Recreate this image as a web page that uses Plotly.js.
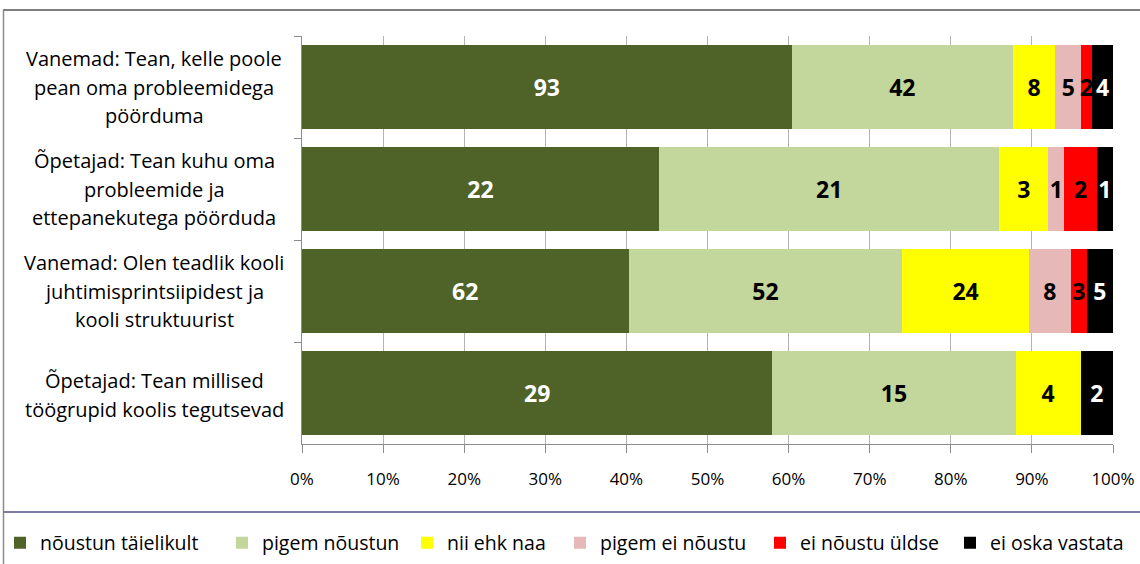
<!DOCTYPE html>
<html>
<head>
<meta charset="utf-8">
<script src="https://cdn.plot.ly/plotly-3.0.1.min.js"></script>
<style>html,body{margin:0;padding:0;background:#fff;}#chart{width:1140px;height:564px;}</style>
</head>
<body>
<div id="chart"></div>
<script>
// Category labels (lines of each label)
const categoryLines = [
  ["Vanemad: Tean, kelle poole", "pean oma probleemidega", "pöörduma"],
  ["Õpetajad: Tean kuhu oma", "probleemide ja", "ettepanekutega pöörduda"],
  ["Vanemad: Olen teadlik kooli", "juhtimisprintsiipidest ja", "kooli struktuurist"],
  ["Õpetajad: Tean millised", "töögrupid koolis tegutsevad"]
];
const categories = categoryLines.map(l => l.join(" "));

// Series names
const seriesNames = ["nõustun täielikult", "pigem nõustun", "nii ehk naa", "pigem ei nõustu", "ei nõustu üldse", "ei oska vastata"];

// Series values (counts per category)
const noustunTaielikult = [93, 22, 62, 29];
const pigemNoustun      = [42, 21, 52, 15];
const niiEhkNaa         = [8, 3, 24, 4];
const pigemEiNoustu     = [5, 1, 8, 0];
const eiNoustuUldse     = [2, 2, 3, 0];
const eiOskaVastata     = [4, 1, 5, 2];

// Tick labels
const tickVals = [0, 10, 20, 30, 40, 50, 60, 70, 80, 90, 100];
const tickText = ["0%", "10%", "20%", "30%", "40%", "50%", "60%", "70%", "80%", "90%", "100%"];

const seriesValues = [noustunTaielikult, pigemNoustun, niiEhkNaa, pigemEiNoustu, eiNoustuUldse, eiOskaVastata];
const colors = ["#4F6228", "#C3D69B", "#FFFF00", "#E6B9B8", "#FF0000", "#000000"];
const textColors = ["#FFFFFF", "#000000", "#000000", "#000000", "#000000", "#FFFFFF"];
// legend entry left positions (px) of each legend square
const legendSquareX = [18, 240, 425, 578, 778, 968];

const FONT = "'Open Sans', Lato, sans-serif";

const legendIds = seriesNames.map((_, i) => i === 0 ? "legend" : "legend" + (i + 1));

const traces = seriesValues.map((vals, i) => ({
  type: "bar",
  orientation: "h",
  name: seriesNames[i],
  legend: legendIds[i],
  y: categories,
  x: vals,
  text: vals.map(String),
  textposition: "inside",
  insidetextanchor: "middle",
  textangle: 0,
  constraintext: "none",
  cliponaxis: false,
  textfont: {family: FONT, size: 23, color: textColors[i], weight: "bold"},
  marker: {color: colors[i], line: {width: 0}},
  hoverinfo: "name+x"
}));

// Category label annotations
const LINE = 28.5;
const annotations = [];
categoryLines.forEach((lines, ci) => {
  const n = lines.length;
  lines.forEach((txt, li) => {
    annotations.push({
      xref: "paper", yref: "y",
      x: (154 - 302) / 811, y: categories[ci],
      xanchor: "center", yanchor: "middle",
      yshift: ((n - 1) / 2 - li) * LINE + (n === 2 ? -2 : 0),
      text: txt, showarrow: false,
      font: {family: FONT, size: 20, color: "#000"}
    });
  });
});

const px2x = p => (p - 302) / 811;
const px2y = p => (444 - p) / 408;

const shapes = [
  // outer frame top
  {type: "line", xref: "paper", yref: "paper", x0: px2x(3), x1: px2x(1140), y0: px2y(10), y1: px2y(10), line: {color: "#7f7f7f", width: 2}},
  // outer frame left
  {type: "line", xref: "paper", yref: "paper", x0: px2x(3.5), x1: px2x(3.5), y0: px2y(10), y1: px2y(564), line: {color: "#8c8c8c", width: 1.5}},
  // legend separator
  {type: "line", xref: "paper", yref: "paper", x0: px2x(3), x1: px2x(1140), y0: px2y(512), y1: px2y(512), line: {color: "#7b7ba6", width: 2}}
];

const layout = {
  width: 1140, height: 564,
  margin: {l: 302, r: 27, t: 36, b: 120, pad: 0, autoexpand: false},
  paper_bgcolor: "#fff", plot_bgcolor: "#fff",
  barmode: "stack",
  barnorm: "percent",
  bargap: 0.186,
  showlegend: true,
  font: {family: FONT, color: "#000"},
  xaxis: {
    range: [0, 100],
    tickvals: tickVals, ticktext: tickText,
    ticks: "outside", ticklen: 8, tickcolor: "#8c8c8c", tickwidth: 1,
    showline: true, linecolor: "#8c8c8c", linewidth: 1,
    showgrid: true, gridcolor: "#b3b3b3", gridwidth: 1,
    zeroline: false,
    ticklabelstandoff: 12,
    tickfont: {family: FONT, size: 17, color: "#000"},
    fixedrange: true
  },
  yaxis: {
    type: "category",
    categoryorder: "array", categoryarray: categories,
    autorange: "reversed",
    showticklabels: false,
    ticks: "outside", tickson: "boundaries", ticklen: 7, tickcolor: "#8c8c8c",
    showline: true, linecolor: "#8c8c8c", linewidth: 1,
    showgrid: false, zeroline: false,
    fixedrange: true
  },
  annotations: annotations,
  shapes: shapes
};

legendIds.forEach((id, i) => {
  layout[id] = {
    orientation: "h",
    x: px2x(legendSquareX[i] - 18), xanchor: "left",
    y: px2y(543), yanchor: "middle",
    font: {family: FONT, size: 19.5, color: "#000"},
    itemwidth: 30,
    bgcolor: "rgba(0,0,0,0)"
  };
});

Plotly.newPlot("chart", traces, layout, {displayModeBar: false, staticPlot: true});
</script>
</body>
</html>
